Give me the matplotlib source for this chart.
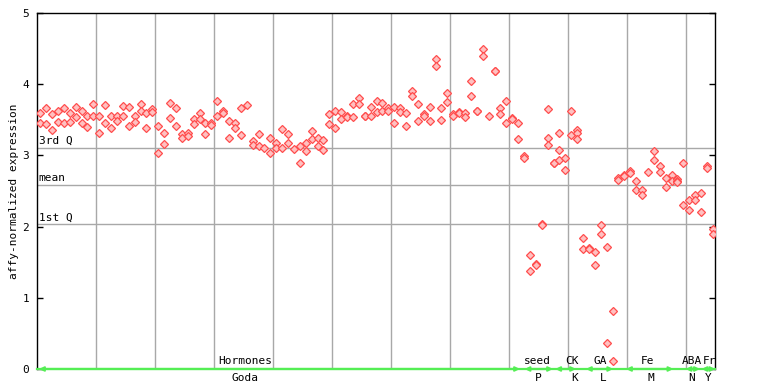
import matplotlib
matplotlib.use("Agg")
import matplotlib.pyplot as plt

# =========================
# DATA
# =========================

# expression values per sample column (columns 0..114)
expr_by_sample = [
    [3.59, 3.45], [3.66, 3.44], [3.58, 3.35], [3.62, 3.47], [3.66, 3.45],
    [3.60, 3.47], [3.68, 3.54], [3.63, 3.45], [3.56, 3.40], [3.72, 3.55],
    [3.56, 3.32], [3.71, 3.45], [3.56, 3.39], [3.56, 3.48], [3.69, 3.55],
    [3.68, 3.41], [3.55, 3.47], [3.72, 3.62], [3.59, 3.39], [3.65, 3.61],
    [3.41, 3.04], [3.32, 3.16], [3.73, 3.52], [3.66, 3.41], [3.30, 3.24],
    [3.32, 3.27], [3.51, 3.44], [3.59, 3.51], [3.45, 3.30], [3.45, 3.43],
    [3.77, 3.55], [3.62, 3.59], [3.49, 3.25], [3.45, 3.39], [3.66, 3.28],
    [3.71], [3.20, 3.14], [3.30, 3.13], [3.10], [3.24, 3.03],
    [3.18, 3.10], [3.37, 3.11], [3.30, 3.18], [3.09], [3.13, 2.89],
    [3.18, 3.06], [3.34, 3.23], [3.25, 3.13], [3.21, 3.07], [3.58, 3.44],
    [3.62, 3.38], [3.61, 3.51], [3.56, 3.54], [3.72, 3.54], [3.80, 3.72],
    [3.55, 3.55], [3.68, 3.55], [3.76, 3.61], [3.74, 3.63], [3.67, 3.62],
    [3.68, 3.45], [3.67, 3.61], [3.59, 3.41], [3.90, 3.83], [3.72, 3.48],
    [3.58, 3.56], [3.68, 3.48], [4.35, 4.25], [3.66, 3.50], [3.88, 3.75],
    [3.58, 3.56], [3.61, 3.59], [3.59, 3.54], [4.05, 3.84], [3.63, 3.62],
    [4.49, 4.39], [3.55], [4.19, 4.18], [3.66, 3.58], [3.77, 3.45],
    [3.53, 3.51], [3.45, 3.23],
    # seed
    [2.99, 2.96], [1.60, 1.38], [1.48, 1.46], [2.04, 2.02], [3.65, 3.25, 3.14],
    [2.90, 2.89],
    # CK
    [3.31, 3.07, 2.93], [2.97, 2.79], [3.63, 3.28], [3.35, 3.32, 3.23],
    # GA
    [1.84, 1.68], [1.70, 1.69], [1.65, 1.46], [2.02, 1.89], [1.71, 0.36],
    [0.81, 0.11],
    # Fe
    [2.68, 2.65], [2.73, 2.71], [2.78, 2.75], [2.64, 2.51], [2.52, 2.45],
    [2.76], [3.06, 2.93], [2.85, 2.76], [2.68, 2.55], [2.73, 2.64],
    [2.67, 2.64, 2.62],
    # ABA
    [2.89, 2.31], [2.37, 2.23], [2.45, 2.37], [2.47, 2.20],
    # Fr
    [2.85, 2.82], [1.96, 1.89],
]

n_cols = 114.92

quartiles = [3.11, 2.59, 2.04]
quartile_names = ["3rd Q", "mean", "1st Q"]

group_names = ["Hormones", "seed", "CK", "GA", "Fe", "ABA", "Fr"]
group_codes = ["Goda", "P", "K", "L", "M", "N", "Y"]
group_start = [0.3, 82.6, 87.8, 93.0, 99.8, 109.9, 112.6]
group_end = [81.8, 87.4, 91.3, 97.6, 107.8, 112.3, 114.9]
name_pos = [35.3, 84.7, 90.6, 95.5, 103.5, 110.9, 114.0]
code_pos = [35.2, 84.9, 91.0, 95.9, 104.0, 110.9, 113.8]

# =========================
# PLOT
# =========================

FONT = "DejaVu Sans Mono"
RED = "#ff4d4d"

fig = plt.figure(figsize=(7.68, 3.84), dpi=100)
ax = fig.add_axes([0.0486, 0.0391, 0.8828, 0.927])

ax.set_xlim(0, n_cols)
ax.set_ylim(0, 5)

# vertical grid every 10 samples
for gx in range(10, 115, 10):
    ax.axvline(gx, color="#a8a8a8", lw=1, zorder=1)

# quartile lines
for q, name in zip(quartiles, quartile_names):
    ax.axhline(q, color="#a8a8a8", lw=1, zorder=1)
    ax.text(0.2, q + 0.02, name, family=FONT, fontsize=8,
            va="bottom", ha="left", zorder=2)

# points
xs = []
ys = []
for i, vals in enumerate(expr_by_sample):
    for v in vals:
        xs.append(i + 0.5)
        ys.append(v)

ax.plot(xs, ys, linestyle="none", marker="D", markersize=4.0,
        markerfacecolor="#ffc0c0", markeredgecolor=RED,
        markeredgewidth=0.9, zorder=3)

# group arrows on the baseline
ax.plot([0, n_cols], [0, 0], color="#55ee55", lw=1.6,
        zorder=4, clip_on=False)
for s, e in zip(group_start, group_end):
    ax.annotate("", xy=(e, 0), xytext=(s, 0),
                arrowprops=dict(arrowstyle="<->", color="#55ee55",
                                lw=1.6, shrinkA=0, shrinkB=0,
                                mutation_scale=6),
                annotation_clip=False, zorder=4)

for name, x in zip(group_names, name_pos):
    ax.text(x, 0.04, name, family=FONT, fontsize=8,
            ha="center", va="bottom", zorder=5, clip_on=False)

for code, x in zip(group_codes, code_pos):
    ax.text(x, -0.05, code, family=FONT, fontsize=8,
            ha="center", va="top", zorder=5, clip_on=False)

# axes styling
for side in ["left", "right", "top"]:
    ax.spines[side].set_color("black")
    ax.spines[side].set_linewidth(1)
ax.spines["bottom"].set_visible(False)

ax.set_xticks([])
ax.set_yticks([0, 1, 2, 3, 4, 5])
ax.set_yticklabels(["0", "1", "2", "3", "4", "5"], family=FONT, fontsize=8)
ax.tick_params(axis="y", direction="in", length=4, width=1,
               left=True, right=True, pad=6)

ax.set_ylabel("affy-normalized expression", family=FONT, fontsize=8)
ax.yaxis.set_label_coords(-0.027, 0.5)

fig.savefig("out.png", dpi=100)
